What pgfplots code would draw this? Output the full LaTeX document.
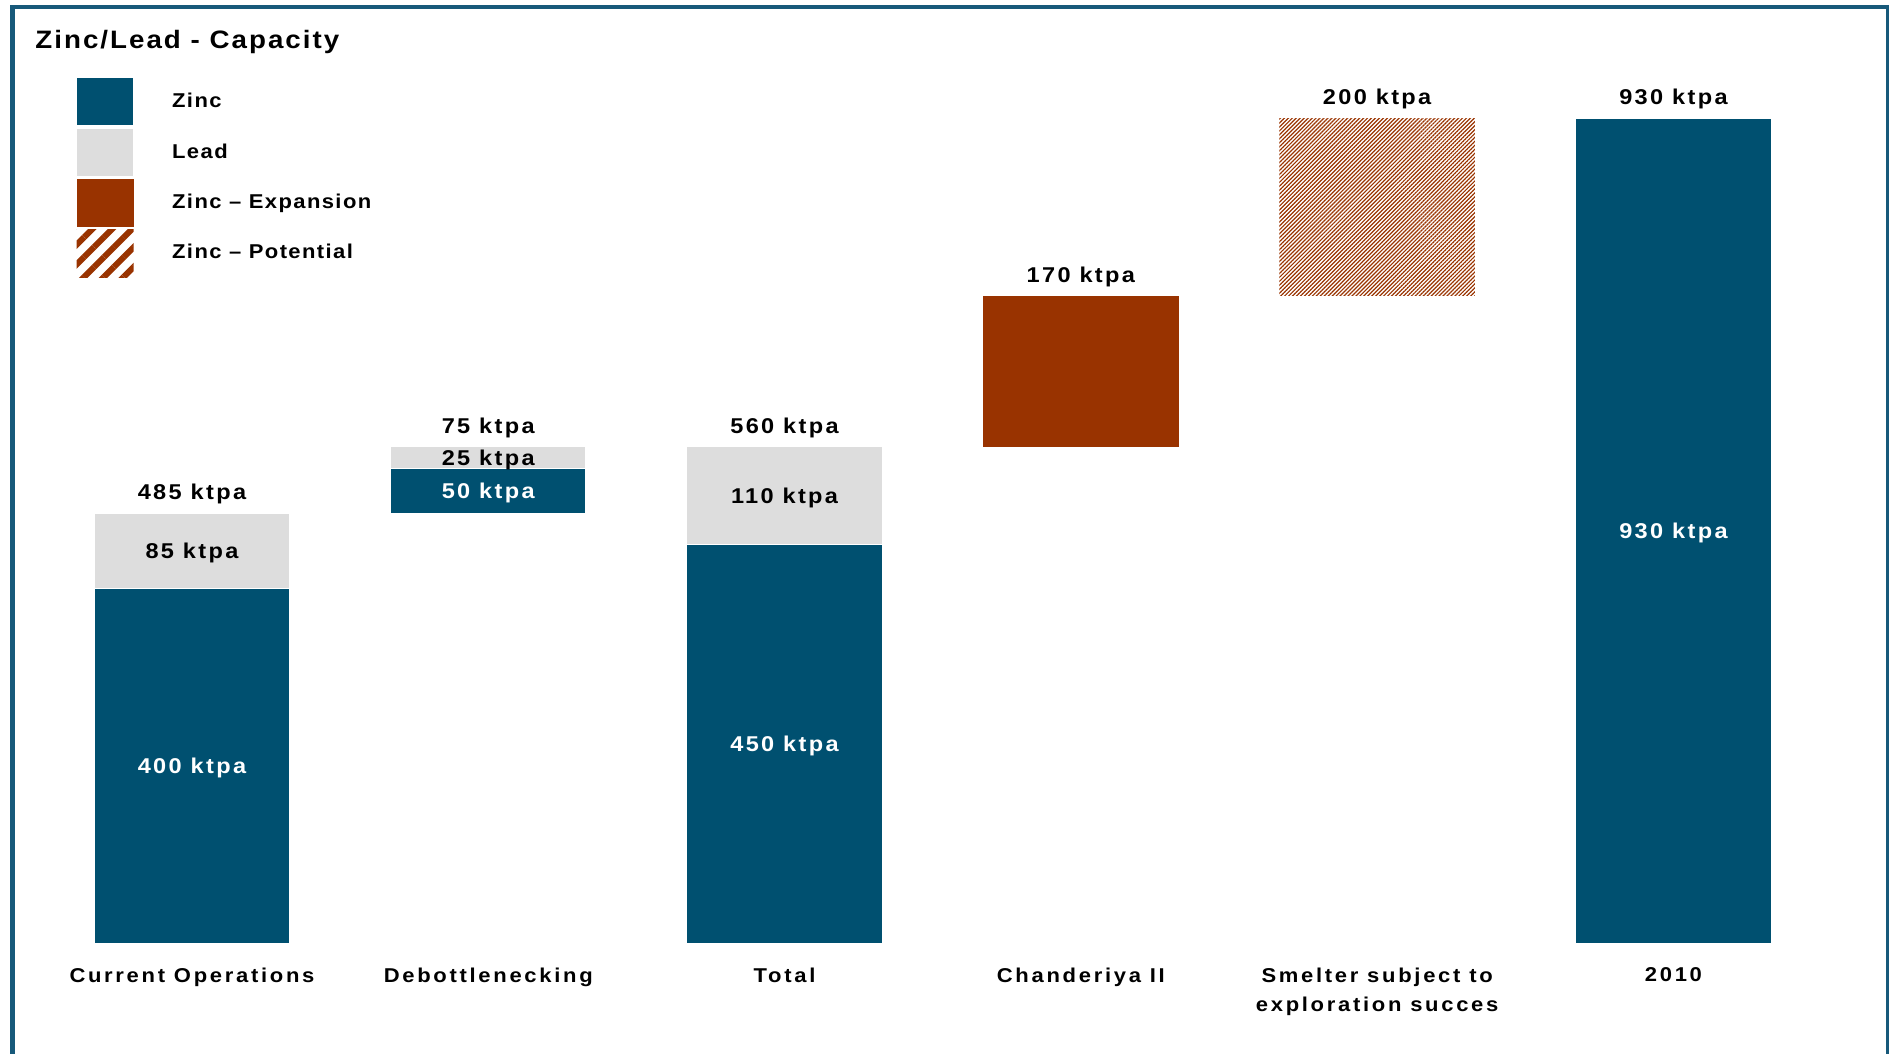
\documentclass[border=0pt]{standalone}
\usepackage{fontspec}
\setmainfont{Liberation Sans}
\usepackage{pgfplots}
\pgfplotsset{compat=1.18}
\usetikzlibrary{patterns.meta}

\newfontfamily\titlef{Liberation Sans}[LetterSpace=8, FakeStretch=1.1]
\newfontfamily\legf{Liberation Sans}[LetterSpace=7, FakeStretch=1.1]
\newfontfamily\barf{Liberation Sans}[LetterSpace=11, FakeStretch=1.1]
\newfontfamily\catf{Liberation Sans}[LetterSpace=13.5, FakeStretch=1.1]

\newcommand\titlefont{\titlef\bfseries\fontsize{12.6}{15}\selectfont}
\newcommand\legfont{\legf\bfseries\fontsize{10}{12}\selectfont}
\newcommand\barfont{\barf\bfseries\fontsize{10.7}{12}\selectfont}
\newcommand\catfont{\catf\bfseries\fontsize{10}{14.5}\selectfont}

\definecolor{zinc}{HTML}{005070}
\definecolor{lead}{HTML}{DDDDDD}
\definecolor{expan}{HTML}{993300}
\definecolor{frame}{HTML}{17597A}

\begin{document}
\begin{tikzpicture}[
    toplbl/.style={anchor=base, yshift=6.6pt, font=\barfont, text=black, inner sep=0pt},
    inlw/.style={anchor=base, yshift=-3.85pt, font=\barfont, text=white, inner sep=0pt},
    inlk/.style={anchor=base, yshift=-3.85pt, font=\barfont, text=black, inner sep=0pt}
  ]
  \useasboundingbox (0,0) rectangle (945pt,527pt);

  % frame round the slide
  \draw[frame, line width=2.6pt] (6.35pt,-5pt) -- (6.35pt,524.5pt);
  \draw[frame, line width=2.1pt] (5pt,523.4pt) -- (944.5pt,523.4pt);
  \draw[frame, line width=1.5pt] (943.6pt,524.5pt) -- (943.6pt,-5pt);

  \node[anchor=base west, font=\titlefont, inner sep=0pt] at (17.5pt,502.6pt) {Zinc/Lead - Capacity};

  \begin{axis}[
      at={(21.9pt,55.2pt)}, anchor=south west,
      scale only axis, width=888.9pt, height=443.8pt,
      ybar stacked, bar width=0.66,
      xmin=-0.5, xmax=5.5, ymin=0, ymax=1000,
      enlargelimits=false,
      xtick={0,...,5},
      xticklabels={Current Operations, Debottlenecking, Total, Chanderiya II,
        {Smelter subject to\\exploration succes}, 2010},
      ytick=\empty,
      axis line style={draw=none},
      major tick length=0pt,
      xticklabel style={font=\catfont, align=center, anchor=north, inner sep=0pt, yshift=-11.8pt},
      clip=false,
      legend style={at={(0.0181,0.9765)}, anchor=north west, draw=none, fill=none,
        inner sep=0pt, outer sep=0pt, row sep=1pt, column sep=19pt,
        font=\legfont, nodes={inner sep=0pt}},
      legend cell align=left,
      legend image code/.code={\fill[#1] (0pt,-12pt) rectangle (28.5pt,12pt);},
    ]
    % invisible base that lifts the floating bars
    \addplot[fill=none, draw=none, forget plot] coordinates {(0,0) (1,485) (2,0) (3,560) (4,730) (5,0)};
    \addplot[fill=zinc, draw=white, line width=0.6pt] coordinates {(0,400) (1,50) (2,450) (3,0) (4,0) (5,930)};
    \addlegendentry{Zinc}
    \addplot[fill=lead, draw=white, line width=0.6pt] coordinates {(0,85) (1,25) (2,110) (3,0) (4,0) (5,0)};
    \addlegendentry{Lead}
    \addplot[fill=expan, draw=none] coordinates {(0,0) (1,0) (2,0) (3,170) (4,0) (5,0)};
    \addlegendentry{Zinc – Expansion}
    \addplot[draw=none, pattern={Lines[angle=45,distance=1.4pt,line width=0.6pt]}, pattern color=expan,
      legend image code/.code={\fill[pattern={Lines[angle=45,distance=7pt,line width=3pt]}, pattern color=expan] (0pt,-12pt) rectangle (28.5pt,12pt);}]
      coordinates {(0,0) (1,0) (2,0) (3,0) (4,200) (5,0)};
    \addlegendentry{Zinc – Potential}

    % anchor points for the value labels (drawn after the axis, on top of the bars)
    \coordinate (t0) at (axis cs:0,485);
    \coordinate (t1) at (axis cs:1,560);
    \coordinate (t2) at (axis cs:2,560);
    \coordinate (t3) at (axis cs:3,730);
    \coordinate (t4) at (axis cs:4,930);
    \coordinate (t5) at (axis cs:5,930);
    \coordinate (z0) at (axis cs:0,200);
    \coordinate (l0) at (axis cs:0,442.5);
    \coordinate (z1) at (axis cs:1,510);
    \coordinate (l1) at (axis cs:1,547.5);
    \coordinate (z2) at (axis cs:2,225);
    \coordinate (l2) at (axis cs:2,505);
    \coordinate (z5) at (axis cs:5,465);
  \end{axis}

  \node[toplbl] at (t0) {485 ktpa};
  \node[toplbl] at (t1) {75 ktpa};
  \node[toplbl] at (t2) {560 ktpa};
  \node[toplbl] at (t3) {170 ktpa};
  \node[toplbl] at (t4) {200 ktpa};
  \node[toplbl] at (t5) {930 ktpa};
  \node[inlw] at (z0) {400 ktpa};
  \node[inlk] at (l0) {85 ktpa};
  \node[inlw] at (z1) {50 ktpa};
  \node[inlk] at (l1) {25 ktpa};
  \node[inlw] at (z2) {450 ktpa};
  \node[inlk] at (l2) {110 ktpa};
  \node[inlw] at (z5) {930 ktpa};
\end{tikzpicture}
\end{document}
